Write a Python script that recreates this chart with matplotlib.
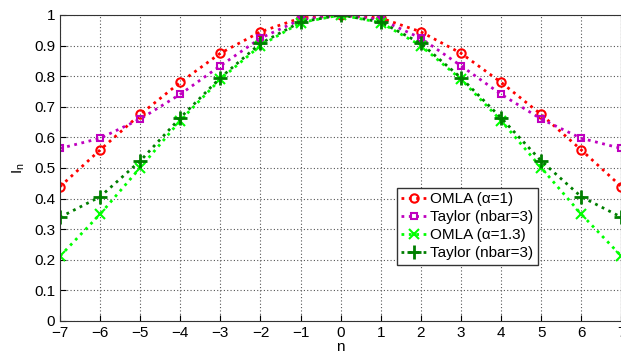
import matplotlib
matplotlib.use("Agg")
import matplotlib.pyplot as plt

n = [-7, -6, -5, -4, -3, -2, -1, 0, 1, 2, 3, 4, 5, 6, 7]

half_omla1 = [0.439, 0.559, 0.675, 0.780, 0.875, 0.945, 0.990, 1.0]
half_taylor_a = [0.564, 0.597, 0.660, 0.741, 0.834, 0.924, 0.985, 1.0]
half_omla13 = [0.212, 0.349, 0.501, 0.655, 0.790, 0.900, 0.975, 1.0]
half_taylor_b = [0.339, 0.406, 0.523, 0.664, 0.795, 0.907, 0.977, 1.0]

# symmetric about n=0
omla1 = half_omla1 + half_omla1[-2::-1]
taylor_a = half_taylor_a + half_taylor_a[-2::-1]
omla13 = half_omla13 + half_omla13[-2::-1]
taylor_b = half_taylor_b + half_taylor_b[-2::-1]

plt.rcParams["font.family"] = ["Liberation Sans", "DejaVu Sans"]

fig = plt.figure(figsize=(6.21, 3.55), dpi=100)
ax = fig.add_axes([0.0966, 0.0958, 0.904, 0.862])

ax.plot(n, omla1, ':', color='red', lw=2, marker='o', ms=6, mfc='none', mew=1.5,
        label='OMLA (\u03b1=1)')
ax.plot(n, taylor_a, ':', color='#bf00bf', lw=2, marker='s', ms=5, mfc='none', mew=1.5,
        label='Taylor (nbar=3)')
ax.plot(n, omla13, ':', color='#00ff00', lw=2, marker='x', ms=7, mew=1.5,
        label='OMLA (\u03b1=1.3)')
ax.plot(n, taylor_b, ':', color='#007f00', lw=2, marker='+', ms=10, mew=2,
        label='Taylor (nbar=3)')

ax.set_xlim(-7, 7)
ax.set_ylim(0, 1)
ax.set_xticks(range(-7, 8))
ax.set_yticks([i / 10 for i in range(11)])
ax.set_yticklabels(['0', '0.1', '0.2', '0.3', '0.4', '0.5', '0.6', '0.7', '0.8', '0.9', '1'])
ax.tick_params(labelsize=11, direction='in', length=4)
ax.grid(True, linestyle=(0, (1, 2)), color='#555555', lw=0.8)
for s in ax.spines.values():
    s.set_color('#333333')

ax.set_xlabel('n', fontsize=11, labelpad=0)
ax.set_ylabel(r'I$_\mathregular{n}$', fontsize=11, labelpad=5)

leg = ax.legend(loc='upper left', bbox_to_anchor=(0.6, 0.435), borderaxespad=0,
                fontsize=11, handlelength=1.6, handletextpad=0.3, borderpad=0.3,
                labelspacing=0.25, fancybox=False, framealpha=1, edgecolor='#333333')
leg.get_frame().set_linewidth(1.0)

fig.savefig("out.png", dpi=100)
